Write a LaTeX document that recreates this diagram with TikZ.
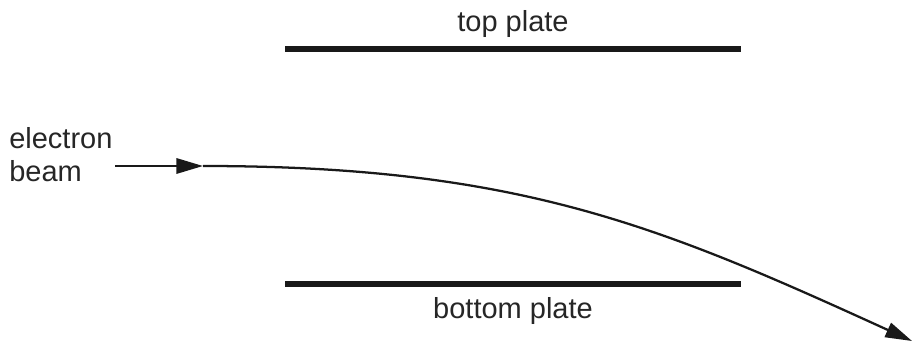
\documentclass[tikz,border=0pt]{standalone}
\usepackage{fontspec}
\setmainfont{Liberation Sans}
\usetikzlibrary{arrows.meta}
\begin{document}
\begin{tikzpicture}[x=0.75pt,y=-0.75pt,
  plate/.style={line width=4.6pt, draw=black!90},
  beam/.style={line width=1.7pt, draw=black!90},
  tipstyle/.style={-{Triangle[length=20pt,width=11.5pt]}},
  lbl/.style={inner sep=0pt, font=\fontsize{21.75}{25}\selectfont, text=black!85}]
\useasboundingbox (0,0) rectangle (913,345);
% plates
\coordinate (tl) at (285,49);
\coordinate (tr) at (741,49);
\coordinate (bl) at (285,284);
\coordinate (br) at (741,284);
\draw[plate] (tl) -- (tr);
\draw[plate] (bl) -- (br);
% labels
\node[lbl, anchor=base] (toplbl) at (513,31.7) {top plate};
\node[lbl, anchor=base] (botlbl) at (513,318) {bottom plate};
\node[lbl, anchor=base west, align=left] (beamlbl) at (9,181.7) {electron\\beam};
% beam
\coordinate (start) at (115,166);
\coordinate (mid) at (203,166);
\coordinate (exit) at (912,341);
\draw[beam, tipstyle] (start) -- (mid);
\draw[beam, tipstyle] (mid) .. controls (520,166) and (662,227) .. (exit);
\end{tikzpicture}
\end{document}
